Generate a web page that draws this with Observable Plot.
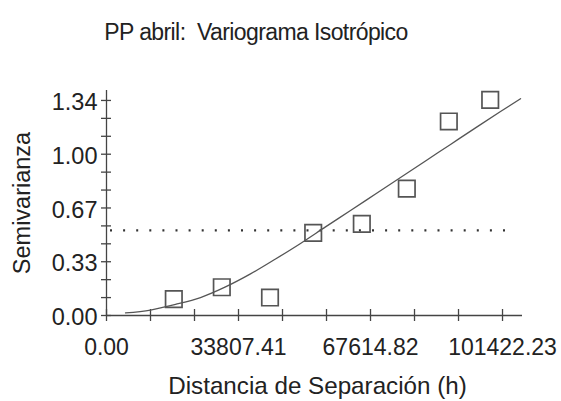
<!DOCTYPE html>
<html>
<head>
<meta charset="utf-8">
<script src="https://cdn.jsdelivr.net/npm/d3@7"></script>
<script src="https://cdn.jsdelivr.net/npm/@observablehq/plot@0.6"></script>
<style>
  html, body { margin: 0; padding: 0; background: #fff; width: 561px; height: 401px; overflow: hidden; }
  body { font-family: "Liberation Sans", Arial, sans-serif; }
  #title { position: relative; width: 561px; height: 50px; }
  #title span { position: absolute; left: 256px; top: 21px; transform: translateX(-50%);
    font-size: 23px; line-height: 23px; letter-spacing: -0.6px; color: #222; white-space: pre; }
  #chart svg { display: block; }
</style>
</head>
<body>
<div id="title"><span>PP abril:  Variograma Isotrópico</span></div>
<div id="chart"></div>
<script>
// Tick values and labels
const xTickValues = [0, 33807.41, 67614.82, 101422.23];
const xTickLabels = ["0.00", "33807.41", "67614.82", "101422.23"];
const yTickValues = [0, 0.335, 0.67, 1.005, 1.34];
const yTickLabels = ["0.00", "0.33", "0.67", "1.00", "1.34"];

// Experimental semivariogram (squares)
const lagDistance = [17237, 29530, 41875, 52939, 65387, 76912, 87669, 98272];
const semivariance = [0.102, 0.176, 0.112, 0.515, 0.571, 0.790, 1.209, 1.344];

// Fitted model curve
const modelDistance = [4866, 11269, 17672, 24075, 30478, 36881, 43284, 49687, 56090,
  62493, 68895, 75298, 81701, 88104, 94507, 100910, 106032];
const modelGamma = [0.016, 0.034, 0.069, 0.112, 0.178, 0.259, 0.352, 0.449, 0.552,
  0.654, 0.757, 0.860, 0.963, 1.066, 1.169, 1.271, 1.351];

// Sample variance (dotted line)
const sill = 0.530;
const sillStart = 1024;
const sillEnd = 104240;

const points = lagDistance.map((d, i) => ({x: d, y: semivariance[i]}));
const model = modelDistance.map((d, i) => ({x: d, y: modelGamma[i]}));
const xTicks = xTickValues.map((v, i) => ({v, label: xTickLabels[i]}));
const yTicks = yTickValues.map((v, i) => ({v, label: yTickLabels[i]}));
const xMinor = d3.range(10).map(i => i * xTickValues[3] / 9);
const yMinor = d3.range(13).map(i => i * yTickValues[4] / 12);

const ink = "#444";
const chart = Plot.plot({
  width: 561,
  height: 351,
  marginLeft: 106,
  marginRight: 39,
  marginTop: 40,
  marginBottom: 86,
  x: {domain: [0, 106540], axis: null},
  y: {domain: [0, 1.402], axis: null},
  style: {fontFamily: "'Liberation Sans', Arial, sans-serif", background: "white", color: "#222"},
  marks: [
    Plot.ruleY([0], {stroke: ink, strokeWidth: 1.3}),
    Plot.ruleX([0], {stroke: ink, strokeWidth: 1.3}),
    Plot.ruleX(xMinor, {x: d => d, y1: 0, y2: 0, insetTop: 6, insetBottom: 6, stroke: ink, strokeWidth: 1.3}),
    Plot.ruleY(yMinor, {y: d => d, x1: 0, x2: 0, insetLeft: 5, insetRight: 5, stroke: ink, strokeWidth: 1.3}),
    Plot.ruleY([sill], {x1: sillStart, x2: sillEnd, stroke: "#333", strokeWidth: 2.2, strokeDasharray: "2,11.1"}),
    Plot.line(model, {x: "x", y: "y", stroke: "#555", strokeWidth: 1.3, curve: "monotone-x"}),
    Plot.dot(points, {x: "x", y: "y", symbol: "square", r: 9.3, stroke: "#555", strokeWidth: 1.7, fill: "none"}),
    Plot.text(xTicks, {x: "v", y: 0, text: "label", lineAnchor: "top", dy: 23, fontSize: 23, fill: "#222"}),
    Plot.text(yTicks, {x: 0, y: "v", text: "label", textAnchor: "end", dx: -9, dy: 2, fontSize: 23.5, fill: "#222"}),
    Plot.text(["Semivarianza"], {frameAnchor: "left", textAnchor: "middle", rotate: -90, dx: -84, fontSize: 23.5, fill: "#222"}),
    Plot.text(["Distancia de Separación (h)"], {frameAnchor: "bottom", lineAnchor: "top", dx: 3, dy: 61, fontSize: 24.2, fill: "#222"})
  ]
});
document.getElementById("chart").appendChild(chart);
</script>
</body>
</html>
